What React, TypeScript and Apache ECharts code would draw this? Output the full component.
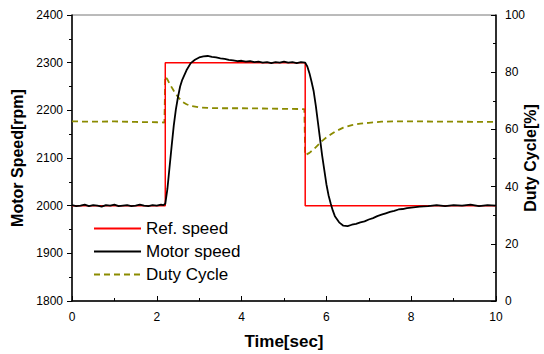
import React, { useEffect, useRef } from "react";
import * as echarts from "echarts";

const refTime = [0, 2.2, 2.2, 5.5, 5.5, 10];
const refSpeed = [2000, 2000, 2300, 2300, 2000, 2000];

const motorTime = [
  0, 0.1, 0.2, 0.3, 0.4, 0.5, 0.6, 0.7, 0.8, 0.9, 1.0, 1.1, 1.2, 1.3, 1.4, 1.5, 1.6, 1.7, 1.8, 1.9, 2.0, 2.1,
  2.15, 2.2, 2.25, 2.3, 2.35, 2.4, 2.45, 2.5, 2.55, 2.6, 2.7, 2.8, 2.9, 3.0, 3.1, 3.2, 3.3, 3.4, 3.5, 3.6,
  3.7, 3.8, 3.9, 4.0, 4.1, 4.2, 4.3, 4.4, 4.5, 4.6, 4.7, 4.8, 4.9, 5.0, 5.1, 5.2, 5.3, 5.4, 5.5, 5.55,
  5.6, 5.65, 5.7, 5.75, 5.8, 5.85, 5.9, 5.95, 6.0, 6.05, 6.1, 6.15, 6.2, 6.3, 6.4, 6.5, 6.6, 6.7, 6.8,
  6.9, 7.0, 7.1, 7.2, 7.3, 7.4, 7.5, 7.6, 7.7, 7.8, 7.9, 8.0, 8.2, 8.4, 8.6, 8.8, 9.0, 9.2, 9.4, 9.6, 9.8, 10.0,
];
const motorSpeed = [
  2001, 1999, 2000, 2002, 1999, 2001, 2000, 1998, 2001, 2000, 2002, 1999, 2000, 2001, 1999, 2000, 2002, 2000, 1999, 2001, 2000, 2002,
  2001, 2004, 2035, 2080, 2125, 2168, 2202, 2228, 2250, 2264, 2284, 2299, 2306, 2311, 2313, 2314, 2312, 2311, 2309, 2308,
  2306, 2305, 2303, 2304, 2302, 2303, 2301, 2302, 2300, 2301, 2299, 2301, 2300, 2302, 2300, 2301, 2299, 2301, 2300, 2292,
  2278, 2260, 2240, 2210, 2175, 2140, 2105, 2075, 2045, 2022, 2005, 1990, 1978, 1965, 1958, 1957, 1960, 1962, 1965,
  1967, 1971, 1974, 1978, 1981, 1984, 1987, 1989, 1992, 1993, 1995, 1996, 1998, 1999, 2001, 1999, 2001, 2000, 2002, 1999, 2001, 2000,
];

const dutyTime = [
  0, 0.5, 1, 1.5, 2, 2.18, 2.2, 2.25, 2.3, 2.4, 2.5, 2.6, 2.7, 2.8, 3.0, 3.2, 3.5, 4.0, 4.5, 5.0, 5.48, 5.5,
  5.6, 5.7, 5.8, 5.9, 6.0, 6.1, 6.2, 6.4, 6.6, 6.8, 7.0, 7.3, 7.6, 8, 9, 10,
];
const dutyCycle = [
  62.8, 62.7, 62.8, 62.6, 62.5, 62.4, 78.5, 77.5, 76, 73.5, 71.3, 69.7, 68.8, 68.2, 67.7, 67.5, 67.4, 67.4, 67.3, 67.2, 67.1, 51,
  51.8, 53, 54.5, 56, 57.2, 58.2, 59.2, 60.6, 61.5, 62, 62.3, 62.7, 62.8, 62.8, 62.7, 62.6,
];

const zip = (xs: number[], ys: number[]) => xs.map((x, i) => [x, ys[i]]);

const FONT = "'Liberation Sans', Arial, sans-serif";

export default function App() {
  const ref = useRef<HTMLDivElement>(null);
  useEffect(() => {
    if (!ref.current) return;
    const chart = echarts.init(ref.current, null, { renderer: "svg" });
    const axisLabel = { color: "#000", fontSize: 12, fontFamily: FONT, formatter: (v: number) => String(v) };
    chart.setOption({
      animation: false,
      backgroundColor: "#fff",
      textStyle: { fontFamily: FONT },
      grid: {
        left: 72,
        right: 48,
        top: 15,
        bottom: 53,
        containLabel: false,
        outerBoundsMode: "none",
        show: true,
        borderColor: "#777",
        borderWidth: 1,
        backgroundColor: "transparent",
      },
      graphic: [
        {
          type: "text",
          x: 530,
          y: 158,
          rotation: Math.PI / 2,
          style: {
            text: "Duty Cycle[%]",
            fontSize: 16,
            fontWeight: "bold",
            fill: "#000",
            fontFamily: FONT,
            align: "center",
            verticalAlign: "middle",
          },
        },
      ],
      legend: {
        left: 88,
        top: 215,
        orient: "vertical",
        itemWidth: 47,
        itemHeight: 14,
        itemGap: 6,
        itemStyle: { opacity: 0 },
        textStyle: { fontSize: 17, color: "#000", fontFamily: FONT },
        data: ["Ref. speed", "Motor speed", "Duty Cycle"],
      },
      xAxis: {
        type: "value",
        min: 0,
        max: 10,
        interval: 2,
        name: "Time[sec]",
        nameLocation: "middle",
        nameGap: 32,
        nameTextStyle: { fontSize: 17, fontWeight: "bold", color: "#000", fontFamily: FONT },
        axisLine: { show: true, lineStyle: { color: "#000", width: 1.5 } },
        axisTick: { show: true, inside: true, length: 5, lineStyle: { color: "#000" } },
        minorTick: { show: true, splitNumber: 2, length: 3, lineStyle: { color: "#000" } },
        splitLine: { show: false },
        axisLabel: { ...axisLabel, margin: 10 },
      },
      yAxis: [
        {
          type: "value",
          min: 1800,
          max: 2400,
          interval: 100,
          name: "Motor Speed[rpm]",
          nameLocation: "middle",
          nameGap: 46,
          nameTextStyle: { fontSize: 16, fontWeight: "bold", color: "#000", fontFamily: FONT },
          axisLine: { show: true, lineStyle: { color: "#000", width: 1.5 } },
          axisTick: { show: true, length: 5, lineStyle: { color: "#000" } },
          minorTick: { show: true, splitNumber: 2, length: 3, lineStyle: { color: "#000" } },
          splitLine: { show: false },
          axisLabel: { ...axisLabel, margin: 9 },
        },
        {
          type: "value",
          min: 0,
          max: 100,
          interval: 20,
          position: "right",
          axisLine: { show: true, lineStyle: { color: "#000", width: 1.5 } },
          axisTick: { show: true, inside: true, length: 5, lineStyle: { color: "#000" } },
          minorTick: { show: true, splitNumber: 2, length: 3, lineStyle: { color: "#000" } },
          splitLine: { show: false },
          axisLabel: { ...axisLabel, margin: 9 },
        },
      ],
      series: [
        {
          name: "Ref. speed",
          type: "line",
          yAxisIndex: 0,
          symbol: "none",
          data: zip(refTime, refSpeed),
          lineStyle: { color: "#ff0000", width: 1.5 },
          itemStyle: { color: "#ff0000" },
          z: 2,
        },
        {
          name: "Motor speed",
          type: "line",
          yAxisIndex: 0,
          symbol: "none",
          data: zip(motorTime, motorSpeed),
          lineStyle: { color: "#000", width: 1.8 },
          itemStyle: { color: "#000" },
          z: 3,
        },
        {
          name: "Duty Cycle",
          type: "line",
          yAxisIndex: 1,
          symbol: "none",
          data: zip(dutyTime, dutyCycle),
          lineStyle: { color: "#8b8b00", width: 1.8, type: [6, 4] },
          itemStyle: { color: "#8b8b00" },
          z: 1,
        },
      ],
    });
    return () => chart.dispose();
  }, []);
  return <div ref={ref} style={{ width: 544, height: 354, position: "absolute", left: 0, top: 0 }} />;
}
